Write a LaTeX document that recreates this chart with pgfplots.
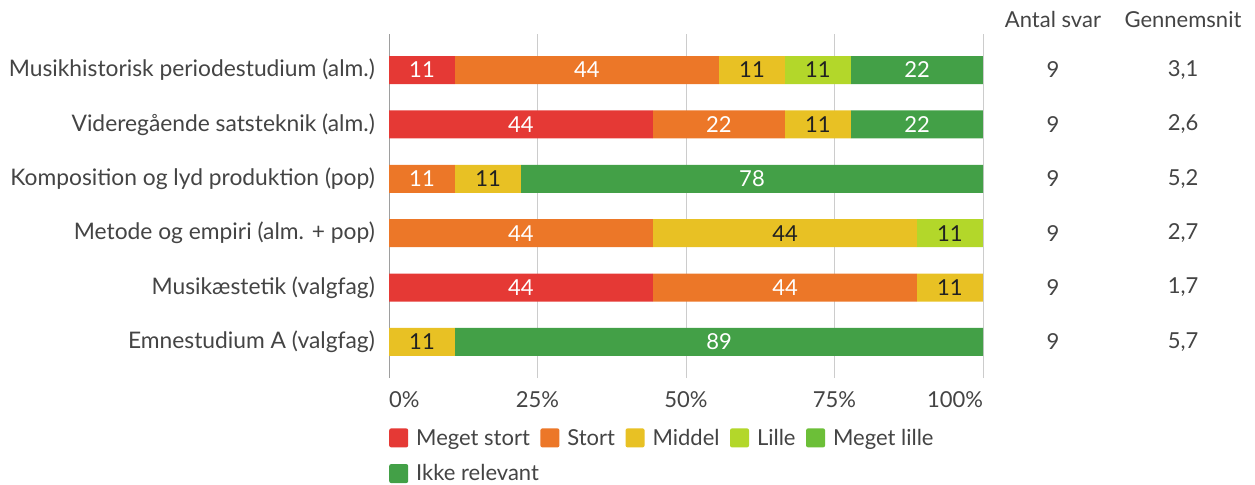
\documentclass[border=0pt]{standalone}
\usepackage{pgfplots}
\pgfplotsset{compat=1.18}
\usepackage{fontspec}
\setmainfont{Lato}
\definecolor{cMS}{HTML}{E53935}
\definecolor{cS}{HTML}{EC7728}
\definecolor{cM}{HTML}{E8C124}
\definecolor{cL}{HTML}{B3D72A}
\definecolor{cML}{HTML}{6CBF38}
\definecolor{cIR}{HTML}{43A047}
\definecolor{txt}{HTML}{444444}
\definecolor{dtxt}{HTML}{212121}
\definecolor{gridgray}{HTML}{CCCCCC}
\definecolor{axgray}{HTML}{9E9E9E}
\newcommand{\fs}{\fontsize{22bp}{26bp}\selectfont}
\newcommand{\fsl}{\fontsize{22.8bp}{27bp}\selectfont}
\pgfplotsset{
  myleg/.style={legend image code/.code={\fill[##1, rounded corners=2bp] (0bp,-9.5bp) rectangle (19bp,9.5bp);}},
  geom/.style={at={(389bp,107bp)}, anchor=south west, scale only axis, width=594bp, height=344bp,
    xmin=0, xmax=100, ymin=-0.662, ymax=5.662},
}
\begin{document}
\begin{tikzpicture}
\path[use as bounding box] (0,0) rectangle (1255bp,485bp);
\begin{axis}[
  geom,
  xbar stacked, bar width=28bp,
  ytick={0,...,5},
  yticklabels={Emnestudium A (valgfag), Musikæstetik (valgfag), Metode og empiri (alm. + pop), Komposition og lyd produktion (pop), Videregående satsteknik (alm.), Musikhistorisk periodestudium (alm.)},
  xtick={0,25,50,75,100},
  xticklabels={\makebox[0pt][l]{0\%},25\%,50\%,75\%,\makebox[0pt][r]{100\%}},
  major tick length=0,
  axis y line*=left, axis x line*=bottom,
  axis line style={-},
  x axis line style={draw=none},
  y axis line style={draw=axgray, line width=1bp},
  xmajorgrids, grid style={draw=gridgray, line width=0.8bp},
  yticklabel style={font=\fsl, text=txt, inner sep=0pt, xshift=-14bp},
  xticklabel style={font=\fs, text=txt, inner sep=0pt, yshift=-13bp},
  legend columns=5,
  legend cell align=left,
  legend style={at={(0,-0.142)}, anchor=north west, draw=none, font=\fs, text=txt, inner sep=0pt,
    row sep=14bp,
    /tikz/every odd column/.append style={column sep=6bp},
    /tikz/every even column/.append style={column sep=8.5bp}},
]
\addplot[fill=cMS, draw=none, myleg] coordinates {(0,0) (44.44,1) (0,2) (0,3) (44.44,4) (11.11,5)};
\addplot[fill=cS, draw=none, myleg] coordinates {(0,0) (44.44,1) (44.44,2) (11.11,3) (22.22,4) (44.44,5)};
\addplot[fill=cM, draw=none, myleg] coordinates {(11.11,0) (11.11,1) (44.44,2) (11.11,3) (11.11,4) (11.11,5)};
\addplot[fill=cL, draw=none, myleg] coordinates {(0,0) (0,1) (11.11,2) (0,3) (0,4) (11.11,5)};
\addplot[fill=cML, draw=none, myleg] coordinates {(0,0) (0,1) (0,2) (0,3) (0,4) (0,5)};
\addplot[fill=cIR, draw=none, myleg] coordinates {(88.89,0) (0,1) (0,2) (77.78,3) (22.22,4) (22.22,5)};
\legend{Meget stort, Stort, Middel, Lille, Meget lille, \makebox[0pt][l]{Ikke relevant}}
\end{axis}
\begin{axis}[geom, hide axis, clip=false]
\addplot[draw=none, mark=none, nodes near coords, point meta=explicit symbolic,
  every node near coord/.style={anchor=center, font=\fs, text=white}]
  coordinates {(5.555,5) [11] (33.33,5) [44] (88.89,5) [22]
               (22.22,4) [44] (55.55,4) [22] (88.89,4) [22]
               (5.555,3) [11] (61.11,3) [78]
               (22.22,2) [44]
               (22.22,1) [44] (66.67,1) [44]
               (55.56,0) [89]};
\addplot[draw=none, mark=none, nodes near coords, point meta=explicit symbolic,
  every node near coord/.style={anchor=center, font=\fs, text=dtxt}]
  coordinates {(61.11,5) [11] (72.22,5) [11]
               (72.22,4) [11]
               (16.67,3) [11]
               (66.67,2) [44] (94.44,2) [11]
               (94.44,1) [11]
               (5.555,0) [11]};
% Antal svar
\addplot[draw=none, mark=none, nodes near coords, point meta=explicit symbolic,
  every node near coord/.style={anchor=center, font=\fs, text=txt}]
  coordinates {(111.78,5) [9] (111.78,4) [9] (111.78,3) [9] (111.78,2) [9] (111.78,1) [9] (111.78,0) [9]};
% Gennemsnit
\addplot[draw=none, mark=none, nodes near coords, point meta=explicit symbolic,
  every node near coord/.style={anchor=center, font=\fs, text=txt}]
  coordinates {(133.67,5) [{3,1}] (133.67,4) [{2,6}] (133.67,3) [{5,2}] (133.67,2) [{2,7}] (133.67,1) [{1,7}] (133.67,0) [{5,7}]};
\node[font=\fs, text=txt, anchor=center] at (axis cs:111.78,5.92) {Antal svar};
\node[font=\fs, text=txt, anchor=center] at (axis cs:133.67,5.92) {Gennemsnit};
\end{axis}
\end{tikzpicture}
\end{document}
